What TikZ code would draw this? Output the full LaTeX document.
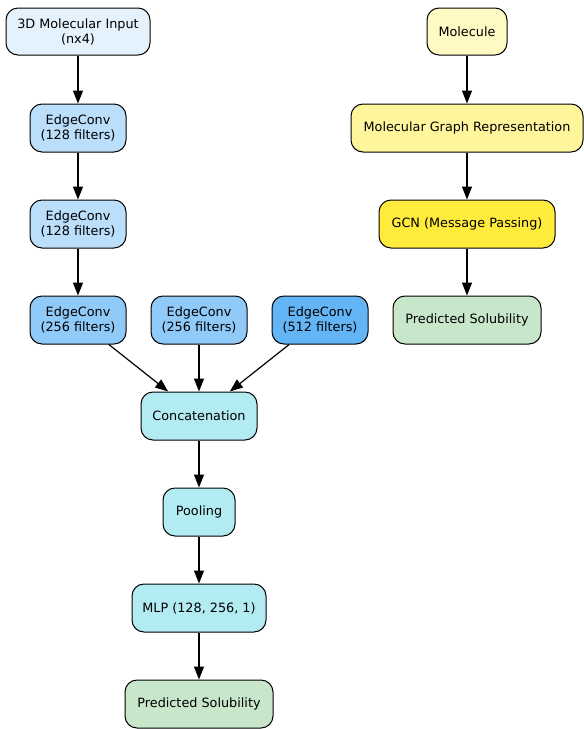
\documentclass[tikz,border=0pt]{standalone}
\usepackage{fontspec}
\setmainfont{DejaVu Sans}
\usepackage{xcolor}
\usepackage{tikz}
\usetikzlibrary{arrows.meta}

\definecolor{inblue}{HTML}{E3F2FD}
\definecolor{ecblueA}{HTML}{BBDEFB}
\definecolor{ecblueB}{HTML}{90CAF9}
\definecolor{ecblueC}{HTML}{64B5F6}
\definecolor{cyanbox}{HTML}{B2EBF2}
\definecolor{predgreen}{HTML}{C8E6C9}
\definecolor{molyellow}{HTML}{FFF9C4}
\definecolor{graphyellow}{HTML}{FFF59D}
\definecolor{gcnyellow}{HTML}{FFEB3B}

\begin{document}
\begin{tikzpicture}[
    x=1pt, y=-1pt,
    box/.style={draw, line width=1pt, rounded corners=12pt, minimum height=48pt, inner sep=0pt, font=\fontsize{12.8}{15}\selectfont, align=center},
    arr/.style={-{Triangle[length=13pt, width=10pt]}, line width=1.2pt}
]
\useasboundingbox (0,0) rectangle (584,729);
% left branch: point cloud model
\node[box, fill=inblue, minimum width=144pt, minimum height=47pt] (in3d) at (78,31.5) {3D Molecular Input\\(nx4)};
\node[box, fill=ecblueA, minimum width=96pt] (ec1) at (78,128) {EdgeConv\\(128 filters)};
\node[box, fill=ecblueA, minimum width=96pt] (ec2) at (78,224) {EdgeConv\\(128 filters)};
\node[box, fill=ecblueB, minimum width=96pt] (ec3) at (78,320) {EdgeConv\\(256 filters)};
\node[box, fill=ecblueB, minimum width=96pt] (ec4) at (199,320) {EdgeConv\\(256 filters)};
\node[box, fill=ecblueC, minimum width=96pt] (ec5) at (320,320) {EdgeConv\\(512 filters)};
\node[box, fill=cyanbox, minimum width=116pt] (concat) at (199,416) {Concatenation};
\node[box, fill=cyanbox, minimum width=72pt] (pool) at (199,512) {Pooling};
\node[box, fill=cyanbox, minimum width=134pt] (mlp) at (199,608) {MLP (128, 256, 1)};
\node[box, fill=predgreen, minimum width=148pt] (predA) at (199,704) {Predicted Solubility};
% right branch: graph model
\node[box, fill=molyellow, minimum width=80pt, minimum height=47pt] (mol) at (467,31.5) {Molecule};
\node[box, fill=graphyellow, minimum width=232pt] (graph) at (467,128) {Molecular Graph Representation};
\node[box, fill=gcnyellow, minimum width=176pt] (gcn) at (467,224) {GCN (Message Passing)};
\node[box, fill=predgreen, minimum width=148pt] (predB) at (467,320) {Predicted Solubility};

\draw[arr] (in3d) -- (ec1);
\draw[arr] (ec1) -- (ec2);
\draw[arr] (ec2) -- (ec3);
\draw[arr] (ec3) -- (concat);
\draw[arr] (ec4) -- (concat);
\draw[arr] (ec5) -- (concat);
\draw[arr] (concat) -- (pool);
\draw[arr] (pool) -- (mlp);
\draw[arr] (mlp) -- (predA);
\draw[arr] (mol) -- (graph);
\draw[arr] (graph) -- (gcn);
\draw[arr] (gcn) -- (predB);
\end{tikzpicture}
\end{document}
